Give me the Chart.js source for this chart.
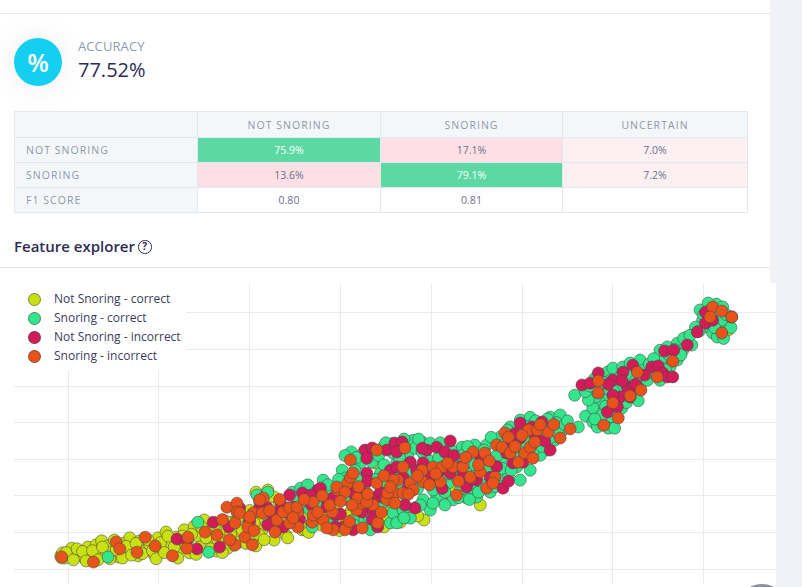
<!DOCTYPE html>
<html>
<head>
<meta charset="utf-8">
<script src="https://cdn.jsdelivr.net/npm/chart.js@4.4.1/dist/chart.umd.min.js"></script>
<style>
  html,body{margin:0;padding:0;background:#fff;width:802px;height:587px;overflow:hidden;font-family:"Open Sans",sans-serif;}
  .abs{position:absolute;}
  .sep{position:absolute;left:0;width:770px;height:1px;background:#e7e8ee;}
  .strip1{left:770px;top:0;width:32px;height:283px;background:#f1f2f8;}
  .strip2{left:776px;top:283px;width:26px;height:304px;background:#f1f2f8;}
  .icon{left:14px;top:38px;width:48px;height:48px;border-radius:50%;background:#14cff0;color:#fff;font-size:25px;font-weight:600;line-height:48px;text-align:center;box-shadow:0 0 22px 8px rgba(120,130,160,0.07);}
  .acc-label{left:78px;top:40px;font-size:13px;line-height:13px;color:#8d9bb1;letter-spacing:0.1px;}
  .acc-val{left:78px;top:59.5px;font-size:20px;line-height:20px;color:#2b2b56;font-weight:500;}
  table{position:absolute;left:14px;top:111px;width:733px;border-collapse:collapse;table-layout:fixed;}
  td,th{border:1px solid #e3e8ef;height:24px;padding:0;font-size:10.5px;text-align:center;color:#6c7088;font-weight:400;}
  th{background:#f4f7fa;color:#8d98a8;letter-spacing:1.05px;text-transform:uppercase;}
  td.rh{background:#f4f7fa;color:#8d98a8;letter-spacing:1.05px;text-align:left;padding-left:11px;}
  td.good{background:#5cd9a3;color:#fff;}
  td.bad{background:#fde0e6;}
  td.unc{background:#fdf0f3;}
  .fe{left:14px;top:239px;font-size:15px;line-height:15px;font-weight:600;color:#2d2b55;}
  .help{left:138px;top:240px;width:11.5px;height:11.5px;border:1.6px solid #2d2b55;border-radius:50%;font-size:10px;line-height:11.5px;text-align:center;font-weight:700;color:#2d2b55;}
  .chartbox{left:14px;top:284px;width:762px;height:300px;background:#fff;}
  .legend{left:14px;top:284px;width:172px;height:86px;background:#fff;z-index:2;}
  .li{position:absolute;left:0;height:19px;}
  .dot{position:absolute;left:14px;width:11px;height:11px;border-radius:50%;border:1px solid rgba(70,70,70,0.55);}
  .lt{position:absolute;left:40px;font-size:12px;line-height:12px;color:#3b3b5e;white-space:nowrap;}
  .fab{left:734px;top:584px;width:56px;height:56px;border-radius:50%;background:#8a90a3;z-index:3;}
</style>
</head>
<body>
<div class="sep" style="top:13px"></div>
<div class="abs strip1"></div>
<div class="abs strip2"></div>
<div class="abs icon">%</div>
<div class="abs acc-label">ACCURACY</div>
<div class="abs acc-val">77.52%</div>
<table id="cm"></table>
<div class="abs fe">Feature explorer</div>
<div class="abs help">?</div>
<div class="sep" style="top:267px"></div>
<div class="abs chartbox"><canvas id="c"></canvas></div>
<div class="abs legend" id="legend"></div>
<div class="abs fab"></div>
<script>
// ---- confusion matrix ----
const cmColumns = ["", "Not snoring", "Snoring", "Uncertain"];
const cmRowLabels = ["NOT SNORING", "SNORING", "F1 SCORE"];
const cmNotSnoring = ["75.9%", "17.1%", "7.0%"];
const cmSnoring = ["13.6%", "79.1%", "7.2%"];
const f1Scores = ["0.80", "0.81", ""];

// ---- scatter data (feature space) ----
const seriesNames = ["Not Snoring - correct", "Snoring - correct", "Not Snoring - incorrect", "Snoring - incorrect"];
const seriesColors = ["#c9e015", "#34e68b", "#d21b59", "#e8531b"];
const xGridTicks = [0, 1, 2, 3, 4, 5, 6, 7];
const yGridTicks = [0, 1, 2, 3, 4, 5, 6, 7];

const notSnoringCorrect = [
[-0.08,0.36],[-0.06,0.44],[-0.03,0.30],[0.02,0.41],[0.04,0.57],[0.09,0.36],[0.13,0.46],[0.18,0.30],[0.22,0.60],[0.24,0.44],
[0.29,0.33],[0.31,0.66],[0.35,0.52],[0.37,0.77],[0.42,0.36],[0.44,0.63],[0.48,0.46],[0.51,0.79],[0.55,0.33],[0.57,0.57],
[0.62,0.71],[0.66,0.44],[0.68,0.85],[0.73,0.60],[0.77,0.36],[0.79,0.77],[0.86,0.52],[0.90,0.66],[0.95,0.38],[0.99,0.85],
[1.04,0.57],[1.08,1.01],[1.12,0.71],[1.15,0.38],[1.19,0.87],[1.23,0.57],[1.28,1.07],[1.32,0.77],[1.34,0.44],[1.39,1.17],
[1.43,0.90],[1.45,0.60],[1.50,1.34],[1.54,1.07],[1.59,0.77],[1.63,0.49],[1.67,1.15],[1.72,0.90],[1.76,0.57],[1.81,1.28],
[1.85,1.01],[1.89,0.74],[1.94,1.48],[1.98,1.20],[2.03,0.87],[2.07,0.63],[2.09,1.39],[2.14,1.07],[2.18,1.67],[2.22,1.28],
[2.27,0.79],[2.31,1.53],[2.36,1.12],[2.40,0.93],[2.44,1.67],[2.51,1.34],[2.58,1.07],[2.62,1.56],[2.69,1.28],[2.75,1.80],
[2.82,1.48],[2.89,1.12],[2.95,1.67],[3.02,1.34],[3.11,1.56],[3.19,1.89],[3.28,1.17],[3.35,1.67],[3.44,1.39],[3.55,1.61],
[3.66,1.28],[3.79,1.61],[3.92,1.34],[4.17,2.08],[4.23,2.16],[4.54,1.75],[5.42,3.85],[7.27,6.53],[6.82,6.34],[2.07,2.10],
[2.20,2.16],[2.27,1.97],[3.38,2.90],[3.25,3.17],[2.61,1.07],[1.75,1.07],
[-0.07,0.30],[-0.02,0.45],[0.06,0.25],[0.10,0.55],[0.16,0.48],[0.20,0.22],[0.27,0.50],[0.33,0.25],[0.38,0.60],[0.46,0.28],
[0.53,0.52],[0.60,0.30],[0.64,0.62],[0.70,0.38],[0.75,0.70],[0.82,0.42],[0.88,0.80],[0.93,0.50],[0.97,0.28],[1.02,0.72],
[1.06,0.45],[1.10,0.90],[1.17,0.60],[1.21,0.30],[1.26,0.90],[1.30,0.62],[1.36,0.95],[1.41,0.40],[1.47,1.15],[1.52,0.85],
[1.57,0.55],[1.61,1.20],[1.65,0.80],[1.70,0.45],[1.74,1.30],[1.79,0.95],[1.83,0.65],[1.87,1.40],[1.92,1.05],[1.96,0.70],
[2.00,1.60],[2.05,1.25],[2.10,0.95],[2.12,1.80],[2.16,0.80],[2.24,1.45],[2.29,1.05],[2.33,1.80],[2.38,1.35],[2.42,0.85],
[2.47,1.50],[2.55,1.25],[2.60,1.75],[2.65,1.00],[2.72,1.60],[2.79,1.20],[2.85,1.90],[2.92,1.40],[2.99,1.05],[3.08,1.45],
[3.15,1.75],[3.22,1.45],[3.30,1.30],[3.40,1.75],[3.48,1.15],[3.52,1.45],[3.60,1.35],[3.72,1.50],[3.85,1.45]
];
const snoringCorrect = [
[0.44,0.33],[1.55,0.46],[1.43,1.28],
[2.08,2.02],[2.20,2.10],[2.11,1.83],[2.47,2.10],[2.56,2.21],[2.64,2.30],[2.81,2.43],[3.02,2.70],[3.22,2.90],[3.29,3.17],
[3.47,3.33],[3.58,3.39],[3.51,2.35],[3.55,1.83],[3.40,1.53],[3.55,1.26],[3.22,1.26],[2.69,1.15],[2.91,1.34],[3.14,1.34],
[3.58,1.53],[3.29,1.97],[3.44,2.62],[3.62,2.90],[3.62,2.24],
[3.58,3.44],[3.66,3.33],[3.80,3.52],[3.90,3.47],[3.99,3.44],[4.12,3.17],[3.62,1.26],[3.69,1.61],[3.84,1.69],[3.91,1.89],
[4.06,1.97],[4.24,1.89],[4.39,1.94],[4.50,1.97],[4.65,2.10],[4.72,2.35],[4.76,2.57],[4.50,2.62],[4.35,2.35],[4.19,2.35],
[4.02,2.16],[3.77,2.43],[3.58,3.17],[4.43,3.06],[4.61,3.39],[4.76,3.61],[4.87,3.88],[4.98,4.07],[5.09,4.15],[5.31,4.15],
[5.42,4.21],[5.34,3.88],[5.45,3.80],[5.20,3.52],[5.09,2.70],[4.94,2.79],[4.79,2.98],[5.27,3.25],[5.58,4.75],[5.70,4.18],
[5.62,3.88],
[2.75,1.94],[2.89,2.10],[3.06,2.49],[3.16,2.70],[3.35,2.92],[3.74,3.11],[3.93,3.03],[4.26,2.98],[4.34,3.33],[4.48,3.39],
[4.67,2.92],[4.85,2.57],[4.98,2.43],[5.20,3.11],[5.36,3.52],[3.99,1.61],[4.15,1.75],[4.32,2.16],[3.33,1.07],[3.77,1.39],
[4.57,2.30],[4.89,3.52],[5.09,3.66],
[2.52,1.95],[2.60,1.80],[2.72,2.05],[2.80,1.70],[2.86,2.30],[2.98,2.00],[2.98,2.45],[2.66,1.62],
[3.05,1.90],[3.10,2.30],[3.12,3.20],[3.18,3.05],[3.20,2.45],[3.26,2.20],[3.32,1.40],[3.38,2.45],[3.42,3.10],[3.46,1.80],
[3.48,2.85],[3.50,3.45],[3.15,1.20],[3.05,3.10],
[3.55,2.05],[3.60,2.60],[3.65,3.05],[3.70,1.40],[3.72,2.00],[3.75,2.70],[3.82,3.30],[3.85,2.20],[3.88,1.75],[3.90,3.20],
[3.95,2.50],[3.98,2.95],[3.86,3.55],[3.70,3.55],
[4.02,1.80],[4.05,2.40],[4.08,3.05],[4.10,3.45],[4.15,2.10],[4.18,2.60],[4.22,3.25],[4.28,2.50],[4.30,1.95],[4.33,3.10],
[4.38,2.65],[4.40,3.35],[4.45,2.20],[4.48,2.85],[4.42,1.90],
[4.52,2.10],[4.55,2.95],[4.58,3.25],[4.62,2.70],[4.66,3.60],[4.70,2.25],[4.72,3.10],[4.78,2.75],[4.80,3.40],[4.84,3.80],
[4.88,2.70],[4.90,3.15],[4.93,3.70],[4.96,3.35],[4.99,3.95],
[5.02,3.00],[5.05,3.45],[5.08,3.90],[5.12,3.20],[5.15,4.05],[5.18,3.70],[5.22,3.35],[5.25,3.95],[5.28,4.10],[5.32,3.60],
[5.38,4.00],[5.40,3.70],[5.47,3.95],[5.50,4.05],
[5.78,4.02],[5.83,3.88],[5.89,3.99],[5.97,4.15],[6.00,4.34],[6.08,4.54],[6.22,4.89],[6.30,5.08],[6.33,5.25],[6.41,5.44],
[6.49,5.63],[6.55,5.79],[6.52,5.98],[6.60,6.07],[6.71,6.17],[6.78,6.31],[6.63,5.52],[6.71,5.71],[6.77,5.98],[6.87,6.12],
[5.86,5.25],[5.94,5.38],[6.00,5.49],[6.11,5.52],[6.19,5.63],[6.30,5.71],[5.89,4.89],[6.00,4.97],[6.16,5.08],[5.94,4.62],
[6.05,4.70],[5.86,4.54],[5.78,4.40],[5.83,4.89],[5.81,4.70],[5.97,5.16],[6.08,5.25],[6.27,5.36],[6.38,5.16],[6.44,5.36],
[6.52,5.16],[5.73,4.62],[5.95,3.85],[6.02,3.85],
[5.70,4.85],[5.75,5.00],[5.80,5.20],[5.90,5.10],[5.92,4.45],[6.05,4.95],[6.10,4.40],[6.12,5.00],[6.20,5.30],[6.25,5.15],
[6.35,5.45],[6.40,5.60],[6.45,5.75],[6.58,5.45],[6.62,5.85],[6.68,6.00],[6.75,5.85],[5.88,4.20],[5.80,4.10],[6.15,4.55],
[6.28,4.60],
[6.99,6.80],[7.04,6.61],[7.10,6.45],[7.15,6.34],[7.21,6.53],[7.26,6.72],[7.18,6.99],[7.14,7.24],[7.21,7.16],[7.27,6.89],
[6.91,6.61],[6.96,7.08],[7.05,7.27],[7.15,6.67],[6.85,6.39],
[7.00,6.95],[7.08,7.10],[7.12,6.90],[7.20,6.80],[7.25,6.95],[7.05,6.75],[6.95,6.50],[7.30,6.60],[7.22,6.30],[7.12,6.60]
];
const notSnoringIncorrect = [
[1.20,0.82],[1.42,0.55],[1.67,0.60],[1.77,1.15],[1.60,1.28],[1.89,1.67],[2.19,1.69],[2.26,1.42],[2.39,1.56],[2.44,2.02],
[2.48,1.69],[2.63,1.94],[2.75,2.16],[2.86,1.80],[2.94,1.48],[3.03,1.15],[3.14,1.07],[3.24,1.56],[3.27,3.25],[3.29,3.03],
[3.41,1.15],[3.51,3.25],[3.55,2.70],[3.58,1.89],[3.60,3.44],[3.40,1.97],[1.31,0.79],[2.11,1.67],[2.20,1.20],[2.30,1.53],
[2.37,1.15],[2.58,2.08],[2.67,2.02],[2.78,2.21],[2.85,1.69],[2.94,1.15],[3.11,2.16],[3.24,2.10],[3.29,2.62],[3.44,2.10],
[3.36,1.61],[3.35,3.31],[3.68,3.47],[3.95,3.25],[4.06,3.33],[4.21,3.50],[4.15,3.20],[3.91,2.90],[3.77,2.92],[3.62,2.79],
[3.69,2.51],[3.84,2.70],[4.10,2.70],[4.21,2.62],[4.32,2.79],[4.39,2.24],[4.50,2.43],[4.65,2.51],[4.79,2.21],[3.82,1.67],
[3.71,1.75],[4.98,3.99],[5.11,3.88],[5.22,4.02],[5.31,3.25],[4.98,3.58],[5.06,3.17],[4.83,3.17],[4.87,3.39],[5.01,2.92],
[4.90,2.90],[5.66,5.03],[5.75,5.08],[5.84,5.36],[6.00,5.16],[6.11,5.38],[6.22,5.57],[6.16,4.97],[6.08,4.70],[6.00,4.75],
[5.94,4.29],[6.05,4.43],[6.19,4.70],[6.22,4.97],[6.43,5.52],[6.50,5.55],[6.55,5.36],[6.60,5.25],[6.66,5.25],[6.57,5.96],
[6.67,5.98],[6.82,6.12],[6.93,6.48],[7.02,6.72],[7.10,6.80],[7.31,6.89],[7.02,7.02],
[2.00,1.30],[2.35,1.75],[2.55,1.35],[2.68,1.75],[2.92,1.95],[3.00,1.50],[3.15,2.05],[3.30,2.40],[3.35,1.35],[3.48,1.95],
[3.62,3.20],[3.75,2.25],[3.90,3.30],[4.00,2.55],[4.12,2.20],[4.25,3.10],[4.35,2.55],[4.45,2.45],[4.55,3.05],[4.72,2.80],
[4.85,2.40],[4.92,3.70],[5.15,3.60],[5.25,3.50],[5.95,5.05],[6.10,5.15],[6.25,5.05],[6.35,5.30]
];
const snoringIncorrect = [
[-0.07,0.33],[0.28,0.19],[0.53,0.74],[0.57,0.55],[0.76,0.46],[0.85,0.87],[0.96,0.63],[1.15,0.36],[1.31,0.57],[1.32,0.87],
[1.51,1.01],[1.64,0.93],[1.75,1.69],[1.86,1.80],[1.86,1.56],[1.84,0.66],[1.95,0.87],[2.03,0.66],[1.98,1.15],[2.04,1.53],
[2.15,1.94],[2.14,1.53],[2.30,1.34],[2.37,1.56],[2.44,1.67],[2.53,1.56],[2.53,1.15],[2.69,1.28],[2.70,1.48],[2.81,1.34],
[2.91,1.56],[2.92,1.07],[2.97,2.16],[3.07,1.15],[3.08,2.35],[3.11,2.98],[3.18,1.61],[3.24,1.80],[3.36,1.75],[3.40,3.25],
[3.41,1.26],[3.51,1.89],[3.60,2.08],[3.63,2.43],[1.84,1.26],[1.89,1.53],[2.00,1.42],[2.11,1.89],[2.44,1.26],[2.52,1.69],
[2.70,1.83],[2.96,2.24],[3.05,2.10],[3.19,1.94],[3.13,1.75],[3.11,2.51],[3.14,2.62],[3.29,1.83],[3.52,2.08],[3.40,2.35],
[3.05,1.07],[2.85,1.12],[3.24,1.12],[2.28,1.01],[3.58,2.43],[3.71,3.31],[3.69,2.79],[3.60,1.80],[3.69,2.08],[3.77,2.35],
[3.80,2.16],[3.90,2.70],[3.91,2.38],[4.02,2.79],[4.10,2.38],[4.12,2.79],[4.24,2.79],[4.28,2.02],[4.35,2.79],[4.43,2.51],
[4.46,3.20],[4.54,2.65],[4.59,3.17],[4.61,2.21],[4.70,2.51],[4.72,3.39],[4.78,3.33],[4.81,3.72],[4.87,3.17],[4.96,2.92],
[5.03,3.17],[5.07,3.80],[5.09,3.33],[5.14,3.47],[5.17,3.80],[5.12,3.03],[5.29,3.74],[5.42,3.58],[5.53,3.83],
[5.84,5.14],[5.84,4.81],[6.00,4.54],[6.06,4.13],[5.90,3.93],[6.19,4.73],[6.27,5.38],[6.31,4.89],[6.49,5.25],[6.66,5.68],
[7.10,7.16],[7.07,6.89],[7.20,7.05],[7.31,6.89],[7.20,6.45],
[1.70,1.35],[1.78,0.80],[2.05,1.05],[2.22,1.60],[2.33,1.90],[2.48,1.40],[2.60,1.90],[2.75,1.55],[2.80,2.00],[2.88,1.75],
[3.00,1.85],[3.10,1.30],[3.20,2.25],[3.30,2.05],[3.45,1.55],[3.48,2.55],[3.55,2.25],[3.75,2.05],[3.85,2.55],[3.98,2.30],
[4.05,2.60],[4.18,2.90],[4.30,2.40],[4.38,3.05],[4.52,2.85],[4.64,2.95],[4.68,2.35],[4.85,3.60],[4.92,3.35],[5.00,3.65],
[5.20,3.95],[5.35,3.95]
];

// ---- table ----
(function(){
  const t = document.getElementById('cm');
  let h = '<colgroup><col style="width:183px"><col style="width:183px"><col style="width:182px"><col style="width:185px"></colgroup>';
  h += '<tr style="height:26px">' + cmColumns.map(c => '<th>' + c + '</th>').join('') + '</tr>';
  const rows = [cmNotSnoring, cmSnoring, f1Scores];
  const cls = [["good","bad","unc"],["bad","good","unc"],["","",""]];
  rows.forEach((r, i) => {
    h += '<tr style="height:25px"><td class="rh">' + cmRowLabels[i] + '</td>' +
      r.map((v, j) => '<td class="' + cls[i][j] + '">' + v + '</td>').join('') + '</tr>';
  });
  t.innerHTML = h;
})();

// ---- legend ----
(function(){
  const L = document.getElementById('legend');
  seriesNames.forEach((n, i) => {
    const top = 8 + i * 19;
    L.innerHTML += '<div class="li" style="top:' + top + 'px"><div class="dot" style="top:0.5px;background:' + seriesColors[i] + '"></div><div class="lt" style="top:0.5px">' + n + '</div></div>';
  });
})();

// ---- chart ----
const toPts = arr => arr.map(p => ({x: p[0], y: p[1]}));
const seriesData = [notSnoringCorrect, snoringCorrect, notSnoringIncorrect, snoringIncorrect];
new Chart(document.getElementById('c'), {
  type: 'scatter',
  data: {
    datasets: seriesData.map((d, i) => ({
      label: seriesNames[i],
      data: toPts(d),
      backgroundColor: seriesColors[i],
      borderColor: 'rgba(70,70,70,0.55)',
      borderWidth: 1,
      pointRadius: 6,
      order: 4 - i
    }))
  },
  options: {
    responsive: true,
    maintainAspectRatio: false,
    animation: false,
    events: [],
    layout: {padding: 0, autoPadding: false},
    plugins: {legend: {display: false}, tooltip: {enabled: false}},
    scales: {
      x: {
        type: 'linear', min: -0.595, max: 7.797,
        afterBuildTicks: s => { s.ticks = xGridTicks.map(v => ({value: v})); },
        ticks: {display: false},
        grid: {color: '#ebebeb', lineWidth: 1, drawTicks: false},
        border: {display: false}
      },
      y: {
        type: 'linear', min: -0.41, max: 7.79,
        afterBuildTicks: s => { s.ticks = yGridTicks.map(v => ({value: v})); },
        ticks: {display: false},
        grid: {color: '#ebebeb', lineWidth: 1, drawTicks: false},
        border: {display: false}
      }
    }
  }
});
</script>
</body>
</html>
